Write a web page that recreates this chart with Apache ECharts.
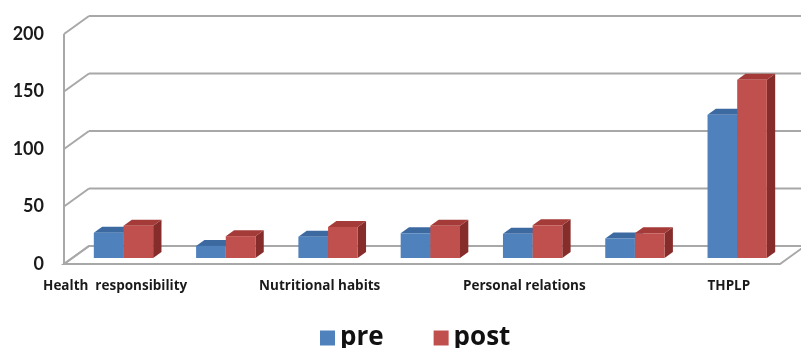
<!DOCTYPE html>
<html>
<head>
<meta charset="utf-8">
<script src="https://cdn.jsdelivr.net/npm/echarts@6/dist/echarts.min.js"></script>
<style>html,body{margin:0;padding:0;background:#fff;}#c{width:801px;height:348px;}</style>
</head>
<body>
<div id="c"></div>
<script>
const categories = ['Health  responsibility', 'Physical activity', 'Nutritional habits', 'Spiritual growth', 'Personal relations', 'Stress management', 'THPLP'];
const preValues = [22, 10.5, 18.5, 21.5, 21, 17, 124.5];
const postValues = [28, 19, 27, 28, 28.5, 21.5, 155];
const yTicks = [0, 50, 100, 150, 200];

const DX = 25, DY = -18;          // depth of the 3D box (pixels)
const BAR_FRAC = 0.29;            // bar width as fraction of category band
const GRID_COLOR = '#a8a8a8';

const chart = echarts.init(document.getElementById('c'), null, {renderer: 'canvas'});

function frameItem(params, api) {
  const cs = params.coordSys;
  const x0 = cs.x, x1 = cs.x + cs.width;
  const children = [];
  const y0 = api.coord([0, 0])[1];
  children.push({
    type: 'polygon',
    shape: {points: [[x0, y0], [x1, y0], [x1 + DX, y0 + DY], [x0 + DX, y0 + DY]]},
    style: {fill: '#ffffff', stroke: GRID_COLOR, lineWidth: 2}
  });
  const yTop = api.coord([0, yTicks[yTicks.length - 1]])[1];
  children.push({type: 'line', shape: {x1: x0, y1: y0, x2: x0, y2: yTop}, style: {stroke: GRID_COLOR, lineWidth: 2}});
  yTicks.forEach(function (v) {
    const y = api.coord([0, v])[1];
    children.push({type: 'line', shape: {x1: x0, y1: y, x2: x0 + DX, y2: y + DY}, style: {stroke: GRID_COLOR, lineWidth: 2}});
    children.push({type: 'line', shape: {x1: x0 + DX, y1: y + DY, x2: x1 + DX, y2: y + DY}, style: {stroke: GRID_COLOR, lineWidth: 2}});
  });
  return {type: 'group', children: children};
}

function makeBarRenderer(side, colors) {
  return function (params, api) {
    const idx = api.value(0);
    const val = api.value(1);
    const base = api.coord([idx, 0]);
    const top = api.coord([idx, val]);
    const band = api.size([1, 0])[0];
    const w = band * BAR_FRAC;
    const ox = DX / 3, oy = DY / 3;
    const dx = DX / 3, dy = DY / 3;
    const xl = base[0] + (side < 0 ? -w : 0) + ox;
    const xr = xl + w;
    const yb = base[1] + oy;
    const yt = top[1] + oy;
    return {
      type: 'group',
      children: [
        {type: 'polygon', shape: {points: [[xr, yb], [xr + dx, yb + dy], [xr + dx, yt + dy], [xr, yt]]}, style: {fill: colors.side}},
        {type: 'polygon', shape: {points: [[xl, yt], [xr, yt], [xr + dx, yt + dy], [xl + dx, yt + dy]]}, style: {fill: colors.top}},
        {type: 'rect', shape: {x: xl, y: yt, width: w, height: yb - yt}, style: {fill: colors.front}}
      ]
    };
  };
}

const preColors = {front: '#4f81bd', top: '#3c69a0', side: '#2f5685'};
const postColors = {front: '#c0504d', top: '#a53b38', side: '#862d2b'};

const option = {
  animation: false,
  backgroundColor: '#ffffff',
  textStyle: {fontFamily: 'Open Sans'},
  grid: {left: 64, right: 21, top: 34, bottom: 84, containLabel: false},
  xAxis: {
    type: 'category',
    data: categories,
    axisLine: {show: false},
    axisTick: {show: false},
    axisLabel: {interval: 1, fontFamily: 'Open Sans', fontWeight: 'bold', fontSize: 13.5, color: '#1a1a1a', margin: 15}
  },
  yAxis: {
    type: 'value',
    min: 0, max: 200, interval: 50,
    axisLine: {show: false},
    axisTick: {show: false},
    splitLine: {show: false},
    axisLabel: {fontFamily: 'Lato', fontWeight: 'bold', fontSize: 18, color: '#1a1a1a', margin: 20}
  },
  legend: {
    left: 315, top: 320,
    itemWidth: 15, itemHeight: 15, itemGap: 50,
    icon: 'rect',
    data: ['pre', 'post'],
    textStyle: {fontFamily: 'Open Sans', fontWeight: 'bold', fontSize: 26, color: '#111'}
  },
  series: [
    {
      type: 'custom', name: 'frame', silent: true, z: 1,
      renderItem: frameItem,
      data: [[0, 0]]
    },
    {
      type: 'custom', name: 'pre', z: 2,
      itemStyle: {color: preColors.front},
      renderItem: makeBarRenderer(-1, preColors),
      data: preValues.map(function (v, i) { return [i, v]; })
    },
    {
      type: 'custom', name: 'post', z: 3,
      itemStyle: {color: postColors.front},
      renderItem: makeBarRenderer(1, postColors),
      data: postValues.map(function (v, i) { return [i, v]; })
    }
  ]
};
chart.setOption(option);
</script>
</body>
</html>
